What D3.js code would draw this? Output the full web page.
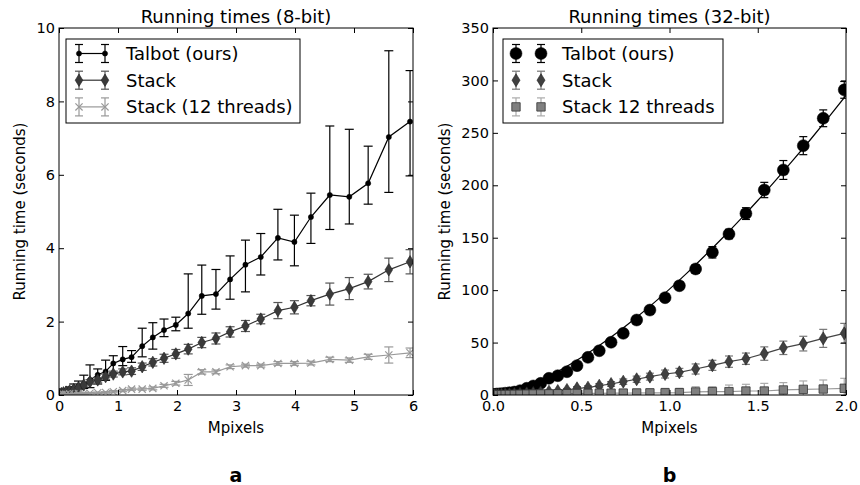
<!DOCTYPE html>
<html>
<head>
<meta charset="utf-8">
<script src="https://cdn.jsdelivr.net/npm/d3@7"></script>
<style>
  body { margin: 0; background: #fff; }
  text { font-family: "DejaVu Sans", sans-serif; }
</style>
</head>
<body>
<script>
// ---- panel a : 8-bit ----
const xA = [0.003, 0.015, 0.04, 0.075, 0.12, 0.18, 0.25, 0.33, 0.42, 0.525, 0.656, 0.79, 0.92, 1.08, 1.23, 1.41, 1.59,
  1.78, 1.98, 2.19, 2.42, 2.66, 2.90, 3.16, 3.42, 3.71, 3.99, 4.27, 4.59, 4.92, 5.24, 5.59, 5.95];
const talbotA = [0.02, 0.04, 0.06, 0.08, 0.11, 0.15, 0.19, 0.24, 0.30, 0.41, 0.55, 0.64, 0.86, 0.97, 1.03, 1.33, 1.57,
  1.77, 1.91, 2.22, 2.70, 2.75, 3.15, 3.55, 3.76, 4.28, 4.17, 4.85, 5.45, 5.40, 5.77, 7.03, 7.45];
const talbotALo = [0.01, 0.02, 0.04, 0.05, 0.07, 0.10, 0.12, 0.15, 0.18, 0.20, 0.30, 0.40, 0.60, 0.80, 0.89, 1.04, 1.25,
  1.59, 1.75, 1.82, 2.20, 2.34, 2.61, 2.81, 3.27, 3.68, 3.52, 4.13, 4.51, 4.66, 5.20, 5.52, 5.97];
const talbotAHi = [0.03, 0.06, 0.09, 0.12, 0.16, 0.22, 0.30, 0.38, 0.54, 0.82, 0.71, 0.95, 1.07, 1.32, 1.21, 1.82, 1.97,
  2.07, 2.12, 3.30, 3.54, 3.42, 3.79, 4.22, 4.40, 5.06, 4.90, 5.50, 7.33, 7.24, 6.78, 9.38, 8.84];
const stackA = [0.01, 0.02, 0.04, 0.06, 0.08, 0.11, 0.15, 0.20, 0.27, 0.36, 0.41, 0.50, 0.57, 0.63, 0.65, 0.77, 0.89,
  1.00, 1.12, 1.25, 1.43, 1.54, 1.72, 1.88, 2.07, 2.30, 2.39, 2.57, 2.75, 2.90, 3.09, 3.41, 3.63];
const stackAErr = [0.01, 0.01, 0.02, 0.02, 0.03, 0.03, 0.04, 0.04, 0.05, 0.06, 0.06, 0.07, 0.08, 0.08, 0.09, 0.10, 0.10,
  0.11, 0.12, 0.13, 0.14, 0.15, 0.14, 0.15, 0.13, 0.22, 0.18, 0.14, 0.30, 0.30, 0.20, 0.32, 0.33];
const stack12A = [0.01, 0.01, 0.01, 0.02, 0.02, 0.03, 0.03, 0.04, 0.04, 0.05, 0.06, 0.07, 0.09, 0.12, 0.16, 0.16, 0.18,
  0.25, 0.32, 0.41, 0.63, 0.63, 0.77, 0.80, 0.80, 0.86, 0.86, 0.87, 0.97, 0.95, 1.04, 1.09, 1.15];
const stack12AErr = [0.005, 0.005, 0.01, 0.01, 0.01, 0.01, 0.01, 0.02, 0.02, 0.02, 0.02, 0.02, 0.03, 0.03, 0.03, 0.03, 0.04,
  0.04, 0.05, 0.15, 0.06, 0.05, 0.05, 0.04, 0.04, 0.05, 0.05, 0.05, 0.06, 0.06, 0.07, 0.22, 0.13];

// ---- panel b : 32-bit ----
const xB = [0.002, 0.008, 0.018, 0.031, 0.048, 0.069, 0.093, 0.121, 0.153, 0.191, 0.228, 0.27, 0.317, 0.367, 0.419, 0.476,
  0.538, 0.602, 0.669, 0.738, 0.814, 0.889, 0.975, 1.056, 1.148, 1.243, 1.337, 1.433, 1.537, 1.645, 1.758, 1.871, 1.99];
const talbotB = [0.3, 0.5, 0.8, 1.0, 1.3, 1.7, 2.2, 2.8, 4.1, 6.4, 8.6, 11.1, 15.9, 18.4, 22.2, 28.0,
  35.9, 42.2, 50.3, 58.8, 71.5, 81.0, 92.8, 104.2, 120.2, 136.1, 153.5, 173.0, 195.5, 214.6, 237.8, 263.9, 291];
const talbotBErr = [0.3, 0.3, 0.4, 0.5, 0.5, 0.6, 0.7, 0.8, 1.0, 1.0, 1.2, 1.3, 1.5, 1.6, 1.8, 2.0,
  2.2, 2.4, 2.6, 2.8, 3.0, 3.2, 3.4, 3.6, 4.0, 5.4, 4.5, 5.6, 7.3, 9.0, 8.6, 8.0, 8.0];
const stackB = [0.1, 0.1, 0.2, 0.3, 0.4, 0.5, 0.7, 0.9, 1.2, 1.6, 2.0, 2.5, 3.2, 3.8, 4.8, 6.4,
  7.0, 8.9, 10.5, 12.7, 15.0, 17.5, 20.0, 21.6, 24.8, 28.3, 31.8, 34.6, 39.5, 45.0, 49.0, 54.0, 58.8];
const stackBErr = [0.1, 0.1, 0.1, 0.2, 0.2, 0.3, 0.3, 0.4, 0.5, 0.6, 0.7, 0.8, 1.0, 1.2, 1.4, 1.6,
  1.8, 2.0, 2.3, 2.6, 3.0, 3.3, 3.8, 3.8, 4.8, 4.8, 5.4, 5.4, 6.4, 6.4, 7.0, 8.6, 9.5];
const stack12B = [0.1, 0.1, 0.2, 0.3, 0.3, 0.4, 0.5, 0.6, 0.7, 0.8, 0.9, 1.0, 1.1, 1.2, 1.3, 1.4,
  1.5, 1.6, 1.7, 1.8, 1.9, 2.0, 2.1, 2.2, 2.9, 3.2, 3.2, 3.8, 3.8, 4.8, 5.4, 5.7, 6.4];
const stack12BErr = [0.2, 0.3, 0.4, 0.6, 0.8, 1.0, 1.2, 1.4, 1.6, 1.8, 2.0, 2.2, 2.4, 2.6, 2.8, 3.0,
  3.2, 3.4, 3.5, 3.6, 3.8, 4.0, 4.2, 4.2, 5.0, 4.7, 6.3, 6.4, 7.3, 7.0, 8.0, 8.6, 9.5];
// fitted curve for Talbot (32-bit)
const fitX = [0, 0.1, 0.2, 0.3, 0.4, 0.5, 0.6, 0.7, 0.8, 0.9, 1.0, 1.1, 1.2, 1.3, 1.4, 1.5, 1.6, 1.7, 1.8, 1.9, 2.0];
const fitY = [0, 3.2, 9.0, 16.6, 25.5, 35.7, 46.9, 59.1, 72.3, 86.2, 101, 116.5, 132.8, 149.7, 167.3, 185.5,
  204.4, 223.9, 243.9, 264.5, 285.7];

const ticksA_x = [0, 1, 2, 3, 4, 5, 6];
const ticksA_y = [0, 2, 4, 6, 8, 10];
const ticksB_x = [0, 0.5, 1, 1.5, 2];
const ticksB_y = [0, 50, 100, 150, 200, 250, 300, 350];

const width = 860;
const height = 485;
const svg = d3.select('body').append('svg').attr('width', width).attr('height', height);

function markerPath(m) {
  if (m.type === 'diamond') return `M0,${-m.hh}L${m.hw},0L0,${m.hh}L${-m.hw},0Z`;
  if (m.type === 'x') return `M${-m.s},${-m.s}L${m.s},${m.s}M${-m.s},${m.s}L${m.s},${-m.s}`;
  if (m.type === 'square') return `M${-m.s},${-m.s}H${m.s}V${m.s}H${-m.s}Z`;
  return d3.arc()({ innerRadius: 0, outerRadius: m.r, startAngle: 0, endAngle: 2 * Math.PI });
}

function drawMarker(g, m, cx, cy) {
  g.append('path')
    .attr('d', markerPath(m))
    .attr('transform', `translate(${cx},${cy})`)
    .attr('fill', m.type === 'x' ? 'none' : m.fill)
    .attr('stroke', m.stroke)
    .attr('stroke-width', m.sw);
}

function drawErr(g, cx, yLo, yHi, color, cap) {
  g.append('line').attr('x1', cx).attr('x2', cx).attr('y1', yLo).attr('y2', yHi)
    .attr('stroke', color).attr('stroke-width', 1.2);
  [yLo, yHi].forEach((yy) => {
    g.append('line').attr('x1', cx - cap).attr('x2', cx + cap).attr('y1', yy).attr('y2', yy)
      .attr('stroke', color).attr('stroke-width', 1.2);
  });
}

function drawPanel(p) {
  const x = d3.scaleLinear().domain(p.xDomain).range([p.left, p.right]);
  const y = d3.scaleLinear().domain(p.yDomain).range([p.bottom, p.top]);
  const g = svg.append('g');

  g.append('clipPath').attr('id', p.id)
    .append('rect').attr('x', p.left).attr('y', p.top)
    .attr('width', p.right - p.left).attr('height', p.bottom - p.top);
  const plot = g.append('g').attr('clip-path', `url(#${p.id})`);

  if (p.fit) {
    plot.append('path')
      .datum(p.fit.xs.map((v, i) => [v, p.fit.ys[i]]))
      .attr('d', d3.line().x((d) => x(d[0])).y((d) => y(d[1])).curve(d3.curveMonotoneX))
      .attr('fill', 'none').attr('stroke', '#000').attr('stroke-width', 1.2);
  }

  p.series.forEach((s) => {
    const pts = s.xs.map((v, i) => ({ x: v, y: s.ys[i], lo: s.lo[i], hi: s.hi[i] }));
    const sg = plot.append('g');
    pts.forEach((d) => drawErr(sg, x(d.x), y(d.lo), y(d.hi), s.errColor, p.cap));
    if (s.lineColor) {
      sg.append('path').datum(pts)
        .attr('d', d3.line().x((d) => x(d.x)).y((d) => y(d.y)))
        .attr('fill', 'none').attr('stroke', s.lineColor).attr('stroke-width', 1.2);
    }
    pts.forEach((d) => drawMarker(sg, s.marker, x(d.x), y(d.y)));
  });

  // axes, ticks pointing inward
  const fontSet = (sel) => sel.attr('font-family', '"DejaVu Sans", sans-serif').attr('font-size', 14.5);
  const xb = g.append('g').attr('transform', `translate(0,${p.bottom})`)
    .call(d3.axisBottom(x).tickValues(p.xTicks).tickFormat(p.xFmt).tickSizeInner(-5).tickSizeOuter(0).tickPadding(6));
  const yl = g.append('g').attr('transform', `translate(${p.left},0)`)
    .call(d3.axisLeft(y).tickValues(p.yTicks).tickFormat(d3.format('d')).tickSizeInner(-5).tickSizeOuter(0).tickPadding(4));
  const xt = g.append('g').attr('transform', `translate(0,${p.top})`)
    .call(d3.axisTop(x).tickValues(p.xTicks).tickFormat('').tickSizeInner(-5).tickSizeOuter(0));
  const yr = g.append('g').attr('transform', `translate(${p.right},0)`)
    .call(d3.axisRight(y).tickValues(p.yTicks).tickFormat('').tickSizeInner(-5).tickSizeOuter(0));
  [xb, yl, xt, yr].forEach((a) => {
    fontSet(a);
    a.select('.domain').remove();
    a.selectAll('line').attr('stroke', '#000');
    a.selectAll('text').attr('fill', '#000');
  });

  g.append('rect').attr('x', p.left).attr('y', p.top)
    .attr('width', p.right - p.left).attr('height', p.bottom - p.top)
    .attr('fill', 'none').attr('stroke', '#000').attr('stroke-width', 1);

  const cx = (p.left + p.right) / 2;
  g.append('text').attr('x', cx).attr('y', 23).attr('text-anchor', 'middle')
    .attr('font-size', 18).text(p.title);
  g.append('text').attr('x', cx).attr('y', 433).attr('text-anchor', 'middle')
    .attr('font-size', 15).text('Mpixels');
  g.append('text').attr('transform', `translate(${p.yLabelX},${(p.top + p.bottom) / 2}) rotate(-90)`)
    .attr('text-anchor', 'middle').attr('font-size', 15).text('Running time (seconds)');
  g.append('text').attr('x', cx).attr('y', 482).attr('text-anchor', 'middle')
    .attr('font-family', '"Open Sans", sans-serif').attr('font-weight', 700)
    .attr('font-size', 19).text(p.letter);

  // legend
  const L = p.legend;
  const lg = g.append('g');
  lg.append('rect').attr('x', L.x).attr('y', L.y).attr('width', L.w).attr('height', L.h)
    .attr('fill', '#fff').attr('stroke', '#000').attr('stroke-width', 1);
  p.series.forEach((s, i) => {
    const ry = L.y + 14.5 + i * 26.7;
    L.mx.forEach((mx) => drawErr(lg, mx, ry + 9, ry - 9, s.errColor, 4));
    if (L.withLine && s.lineColor) {
      lg.append('line').attr('x1', L.mx[0]).attr('x2', L.mx[1]).attr('y1', ry).attr('y2', ry)
        .attr('stroke', s.lineColor).attr('stroke-width', 1.2);
    }
    L.mx.forEach((mx) => drawMarker(lg, s.marker, mx, ry));
    lg.append('text').attr('x', L.tx).attr('y', ry + 6.5).attr('font-size', 18).text(s.name);
  });
}

drawPanel({
  id: 'clipA', left: 59, right: 413, top: 28, bottom: 395,
  xDomain: [0, 6], yDomain: [0, 10], xTicks: ticksA_x, yTicks: ticksA_y, xFmt: d3.format('d'),
  title: 'Running times (8-bit)', letter: 'a', yLabelX: 25, cap: 4.5,
  legend: { x: 66, y: 39, w: 234, h: 84, mx: [79, 105], tx: 126, withLine: true },
  series: [
    { name: 'Talbot (ours)', xs: xA, ys: talbotA, lo: talbotALo, hi: talbotAHi,
      lineColor: '#000', errColor: '#000', marker: { type: 'dot', r: 2.6, fill: '#000', stroke: '#000', sw: 0.5 } },
    { name: 'Stack', xs: xA, ys: stackA, lo: stackA.map((v, i) => v - stackAErr[i]), hi: stackA.map((v, i) => v + stackAErr[i]),
      lineColor: '#333', errColor: '#555', marker: { type: 'diamond', hw: 3.8, hh: 6.2, fill: '#3a3a3a', stroke: '#222', sw: 0.6 } },
    { name: 'Stack (12 threads)', xs: xA, ys: stack12A, lo: stack12A.map((v, i) => v - stack12AErr[i]), hi: stack12A.map((v, i) => v + stack12AErr[i]),
      lineColor: '#999', errColor: '#999', marker: { type: 'x', s: 3.6, fill: 'none', stroke: '#999', sw: 1.2 } }
  ]
});

drawPanel({
  id: 'clipB', left: 493, right: 846, top: 28, bottom: 395,
  xDomain: [0, 2], yDomain: [0, 350], xTicks: ticksB_x, yTicks: ticksB_y, xFmt: d3.format('.1f'),
  title: 'Running times (32-bit)', letter: 'b', yLabelX: 450, cap: 4,
  fit: { xs: fitX, ys: fitY },
  legend: { x: 503, y: 39, w: 220, h: 84, mx: [516, 541], tx: 562, withLine: false },
  series: [
    { name: 'Talbot (ours)', xs: xB, ys: talbotB, lo: talbotB.map((v, i) => v - talbotBErr[i]), hi: talbotB.map((v, i) => v + talbotBErr[i]),
      lineColor: null, errColor: '#000', marker: { type: 'dot', r: 6, fill: '#000', stroke: '#000', sw: 0.5 } },
    { name: 'Stack', xs: xB, ys: stackB, lo: stackB.map((v, i) => v - stackBErr[i]), hi: stackB.map((v, i) => v + stackBErr[i]),
      lineColor: '#444', errColor: '#777', marker: { type: 'diamond', hw: 4, hh: 6.5, fill: '#404040', stroke: '#222', sw: 0.6 } },
    { name: 'Stack 12 threads', xs: xB, ys: stack12B, lo: stack12B.map((v, i) => v - stack12BErr[i]), hi: stack12B.map((v, i) => v + stack12BErr[i]),
      lineColor: '#999', errColor: '#aaa', marker: { type: 'square', s: 4.2, fill: '#808080', stroke: '#333', sw: 0.8 } }
  ]
});
</script>
</body>
</html>
